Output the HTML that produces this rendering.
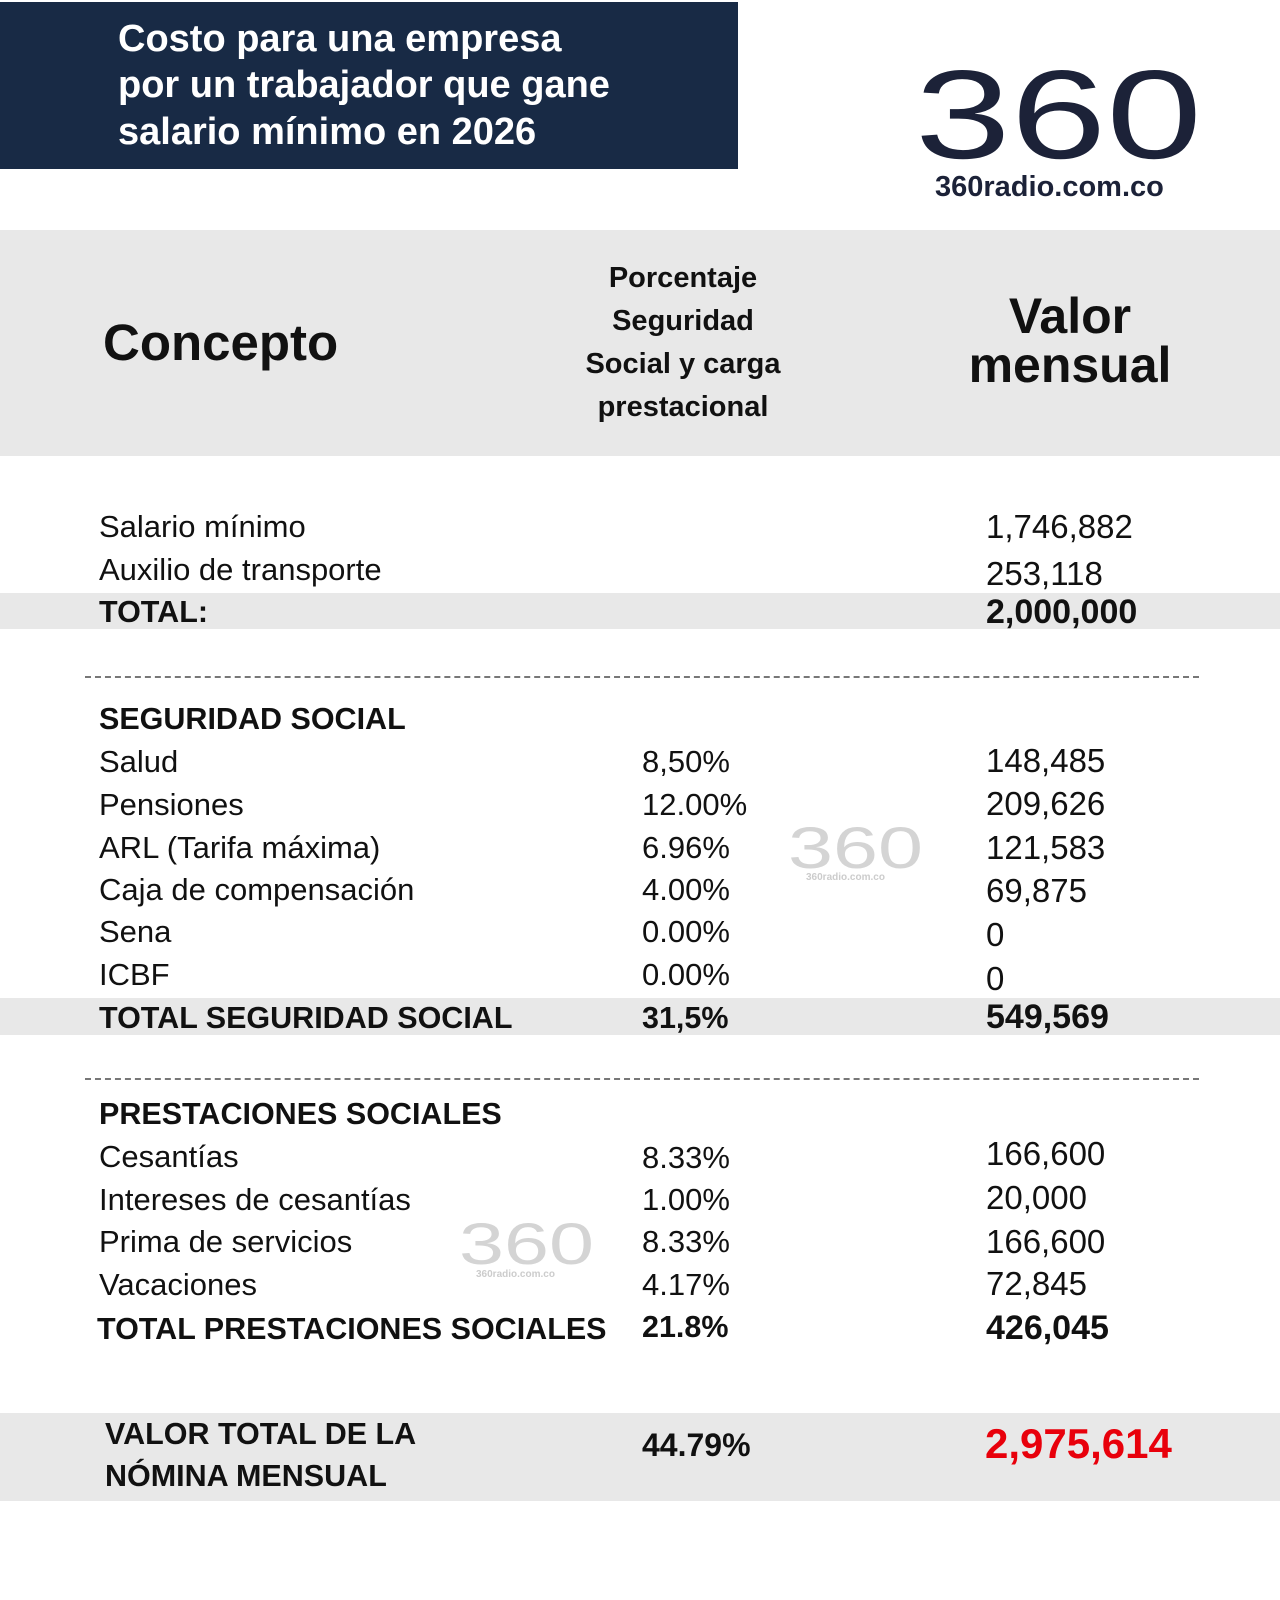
<!DOCTYPE html>
<html><head><meta charset="utf-8"><style>
body{margin:0;width:1280px;height:1600px;background:#fff;position:relative;overflow:hidden;font-family:"Liberation Sans",sans-serif;color:#111}
.a{position:absolute;white-space:nowrap;height:40px;line-height:40px}
.n{font-size:31px}
.b{font-size:30.5px;font-weight:bold}
.v{font-size:33px}
.vb{font-size:34px;font-weight:bold}
.band{position:absolute;left:0;width:1280px;background:#e8e8e8}
.dash{position:absolute;left:85px;width:1114px;border-top:2px dashed #777}
.c1{left:99px}.c2{left:642px}.c3{left:986px}
</style></head><body>
<div style="position:absolute;left:0;top:2px;width:738px;height:167px;background:#182a45"></div>
<div class="a" style="left:118px;top:16px;color:#fff;font-size:38px;font-weight:bold;height:47px;line-height:47px">Costo para una empresa</div>
<div class="a" style="left:118px;top:62px;color:#fff;font-size:38px;font-weight:bold;height:47px;line-height:47px">por un trabajador que gane</div>
<div class="a" style="left:118px;top:109px;color:#fff;font-size:38px;font-weight:bold;height:47px;line-height:47px">salario mínimo en 2026</div>
<svg style="position:absolute;left:0;top:0" width="1280" height="1600">
<text x="915" y="158" font-family="Liberation Sans" font-size="126" fill="#1c2238" textLength="287" lengthAdjust="spacingAndGlyphs">360</text>
<text x="788" y="868" font-family="Liberation Sans" font-size="58" fill="#d4d4d4" textLength="135" lengthAdjust="spacingAndGlyphs">360</text>
<text x="806" y="880" font-family="Liberation Sans" font-size="10" font-weight="bold" fill="#ccc">360radio.com.co</text>
<text x="459" y="1264" font-family="Liberation Sans" font-size="58" fill="#d4d4d4" textLength="135" lengthAdjust="spacingAndGlyphs">360</text>
<text x="476" y="1277" font-family="Liberation Sans" font-size="10" font-weight="bold" fill="#ccc">360radio.com.co</text>
</svg>
<div class="a" style="left:935px;top:167px;font-size:29px;font-weight:bold;color:#1c2238">360radio.com.co</div>

<div class="band" style="top:230px;height:226px"></div>
<div class="a" style="left:103px;top:317px;font-size:51px;font-weight:bold;height:52px;line-height:52px">Concepto</div>
<div style="position:absolute;left:553px;width:260px;top:257px;text-align:center;font-size:29px;font-weight:bold;line-height:43px">Porcentaje<br>Seguridad<br>Social y carga<br>prestacional</div>
<div style="position:absolute;left:920px;width:300px;top:292px;text-align:center;font-size:50px;font-weight:bold;line-height:49px">Valor<br>mensual</div>

<div class="a n c1" style="top:507px">Salario mínimo</div><div class="a v c3" style="top:507px">1,746,882</div>
<div class="a n c1" style="top:550px">Auxilio de transporte</div><div class="a v c3" style="top:554px">253,118</div>
<div class="band" style="top:593px;height:36px"></div>
<div class="a b c1" style="top:592px">TOTAL:</div><div class="a vb c3" style="top:592px">2,000,000</div>

<div class="dash" style="top:676px"></div>
<div class="a b c1" style="top:699px">SEGURIDAD SOCIAL</div>
<div class="a n c1" style="top:742px">Salud</div><div class="a n c2" style="top:742px">8,50%</div><div class="a v c3" style="top:741px">148,485</div>
<div class="a n c1" style="top:785px">Pensiones</div><div class="a n c2" style="top:785px">12.00%</div><div class="a v c3" style="top:784px">209,626</div>
<div class="a n c1" style="top:828px">ARL (Tarifa máxima)</div><div class="a n c2" style="top:828px">6.96%</div><div class="a v c3" style="top:828px">121,583</div>
<div class="a n c1" style="top:870px">Caja de compensación</div><div class="a n c2" style="top:870px">4.00%</div><div class="a v c3" style="top:871px">69,875</div>
<div class="a n c1" style="top:912px">Sena</div><div class="a n c2" style="top:912px">0.00%</div><div class="a v c3" style="top:915px">0</div>
<div class="a n c1" style="top:955px">ICBF</div><div class="a n c2" style="top:955px">0.00%</div><div class="a v c3" style="top:959px">0</div>
<div class="band" style="top:998px;height:37px"></div>
<div class="a b c1" style="top:998px">TOTAL SEGURIDAD SOCIAL</div><div class="a b c2" style="top:998px">31,5%</div><div class="a vb c3" style="top:997px">549,569</div>

<div class="dash" style="top:1078px"></div>
<div class="a b c1" style="top:1094px">PRESTACIONES SOCIALES</div>
<div class="a n c1" style="top:1137px">Cesantías</div><div class="a n c2" style="top:1138px">8.33%</div><div class="a v c3" style="top:1134px">166,600</div>
<div class="a n c1" style="top:1180px">Intereses de cesantías</div><div class="a n c2" style="top:1180px">1.00%</div><div class="a v c3" style="top:1178px">20,000</div>
<div class="a n c1" style="top:1222px">Prima de servicios</div><div class="a n c2" style="top:1222px">8.33%</div><div class="a v c3" style="top:1222px">166,600</div>
<div class="a n c1" style="top:1265px">Vacaciones</div><div class="a n c2" style="top:1265px">4.17%</div><div class="a v c3" style="top:1264px">72,845</div>
<div class="a b" style="left:97px;top:1309px">TOTAL PRESTACIONES SOCIALES</div><div class="a b c2" style="top:1307px">21.8%</div><div class="a vb c3" style="top:1308px">426,045</div>

<div class="band" style="top:1413px;height:88px"></div>
<div class="a b" style="left:105px;top:1414px">VALOR TOTAL DE LA</div>
<div class="a b" style="left:105px;top:1456px">NÓMINA MENSUAL</div>
<div class="a c2" style="top:1425px;font-size:32px;font-weight:bold">44.79%</div>
<div class="a" style="left:985px;top:1422px;font-size:42px;font-weight:bold;color:#e8000b;height:44px;line-height:44px">2,975,614</div>
</body></html>
